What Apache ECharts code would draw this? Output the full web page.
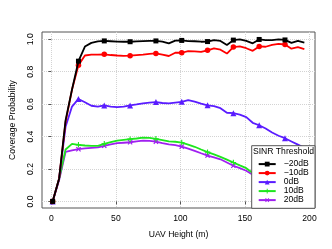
<!DOCTYPE html>
<html>
<head>
<meta charset="utf-8">
<script src="https://cdn.jsdelivr.net/npm/echarts@6/dist/echarts.min.js"></script>
<style>
html,body{margin:0;padding:0;background:#fff;}
#chart{width:332px;height:249px;}
</style>
</head>
<body>
<div id="chart"></div>
<script>
const heights = [1,6,11,16,21,26,31,36,41,46,51,56,61,66,71,76,81,86,91,96,101,106,111,116,121,126,131,136,141,146,151,156,161,166,171,176,181,186,191,196];
const seriesNames = ['\u221220dB','\u221210dB','0dB','10dB','20dB'];
const covM20 = [0.0,0.14,0.50,0.69,0.865,0.955,0.978,0.987,0.99,0.988,0.986,0.985,0.985,0.987,0.989,0.99,0.99,0.985,0.975,0.992,0.993,0.989,0.988,0.985,0.986,0.995,0.99,0.965,0.995,1.0,0.99,0.975,0.999,0.995,0.995,1.0,0.996,0.978,0.99,0.98];
const covM10 = [0.0,0.14,0.49,0.69,0.84,0.90,0.905,0.905,0.907,0.903,0.90,0.898,0.899,0.902,0.905,0.91,0.913,0.905,0.897,0.917,0.917,0.927,0.925,0.923,0.932,0.944,0.936,0.912,0.952,0.956,0.945,0.929,0.956,0.954,0.965,0.972,0.968,0.942,0.952,0.94];
const cov0 = [0.0,0.14,0.46,0.585,0.632,0.612,0.59,0.585,0.592,0.585,0.581,0.585,0.592,0.598,0.605,0.61,0.613,0.607,0.605,0.61,0.614,0.625,0.615,0.603,0.593,0.588,0.575,0.547,0.544,0.535,0.52,0.485,0.47,0.45,0.425,0.405,0.39,0.37,0.35,0.33];
const cov10 = [0.0,0.14,0.32,0.355,0.349,0.345,0.343,0.343,0.355,0.365,0.375,0.38,0.384,0.388,0.394,0.392,0.386,0.378,0.37,0.368,0.363,0.35,0.337,0.32,0.304,0.29,0.275,0.258,0.24,0.222,0.205,0.175,0.16,0.145,0.13,0.12,0.11,0.1,0.09,0.08];
const cov20 = [0.0,0.13,0.305,0.315,0.322,0.327,0.33,0.333,0.343,0.352,0.359,0.362,0.365,0.37,0.375,0.373,0.369,0.36,0.352,0.347,0.338,0.325,0.312,0.297,0.283,0.272,0.26,0.24,0.22,0.205,0.189,0.164,0.15,0.135,0.12,0.11,0.1,0.09,0.08,0.07];
const xTicks = [0,50,100,150,200];
const yTicks = [0,0.2,0.4,0.6,0.8,1.0];

const FONT = 'Liberation Sans, Arial, sans-serif';
const FS = 8.6;
const PLUS = 'path://M4,0H6V4H10V6H6V10H4V6H0V4H4Z';
const styles = [
  {color:'#000000', symbol:'rect', size:5, rot:0},
  {color:'#ff0000', symbol:'circle', size:5.5, rot:0},
  {color:'#5a1cff', symbol:'triangle', size:6, rot:0},
  {color:'#1ee61e', symbol:PLUS, size:5.5, rot:0},
  {color:'#a020f0', symbol:PLUS, size:6, rot:45}
];
const values = [covM20, covM10, cov0, cov10, cov20];

const series = seriesNames.map((name, i) => ({
  name: name,
  type: 'line',
  data: heights.map((h, j) => [h, values[i][j]]),
  symbol: styles[i].symbol,
  symbolRotate: styles[i].rot,
  showAllSymbol: true,
  symbolSize: (v, p) => (p.dataIndex % 4 === 0 && p.dataIndex <= 36) ? styles[i].size : 0,
  lineStyle: {color: styles[i].color, width: 1.8},
  itemStyle: {color: styles[i].color},
  z: 2 + (4 - i)
}));

const chart = echarts.init(document.getElementById('chart'), null, {renderer:'canvas'});
chart.setOption({
  animation: false,
  backgroundColor: '#ffffff',
  textStyle: {fontFamily: FONT},
  grid: {left: 32, right: 17, top: 32, bottom: 41, show: true, borderColor: '#555555', borderWidth: 1, backgroundColor: 'transparent'},
  xAxis: {
    type: 'value', min: -7.25, max: 204.25,
    name: 'UAV Height (m)', nameLocation: 'middle', nameGap: 22,
    nameTextStyle: {fontSize: FS, color: '#000', fontFamily: FONT},
    axisLine: {show: false},
    axisTick: {show: true, length: 3, customValues: xTicks, lineStyle: {color: '#555555'}},
    axisLabel: {customValues: xTicks, fontSize: FS, color: '#000', margin: 6, fontFamily: FONT},
    splitLine: {show: true, lineStyle: {type: 'dotted', color: '#d3d3d3', width: 1}}
  },
  yAxis: {
    type: 'value', min: -0.0406, max: 1.045,
    name: 'Coverage Probability', nameLocation: 'middle', nameGap: 25, nameRotate: 90,
    nameTextStyle: {fontSize: FS, color: '#000', fontFamily: FONT},
    axisLine: {show: false},
    axisTick: {show: true, length: 3, customValues: yTicks, lineStyle: {color: '#555555'}},
    axisLabel: {customValues: yTicks, fontSize: FS, color: '#000', margin: 7, rotate: 90, fontFamily: FONT,
      formatter: v => v.toFixed(1)},
    splitLine: {show: true, lineStyle: {type: 'dotted', color: '#d3d3d3', width: 1}}
  },
  legend: {
    data: seriesNames,
    orient: 'vertical',
    left: 257.7, top: 159.6,
    itemWidth: 17, itemHeight: 6, itemGap: 0,
    padding: 0,
    z: 12,
    textStyle: {fontSize: FS, color: '#000', lineHeight: 8.8, fontFamily: FONT, padding: [0,0,0,3]}
  },
  graphic: [
    {type: 'rect', z: 10, shape: {x: 251.7, y: 145.7, width: 63.3, height: 62.6},
     style: {fill: '#ffffff', stroke: '#555555', lineWidth: 1}},
    {type: 'text', z: 11, x: 283.5, y: 151.2,
     style: {text: 'SINR Threshold', fontSize: FS, fontFamily: FONT, fill: '#000', align: 'center', verticalAlign: 'middle'}}
  ],
  series: series
});
</script>
</body>
</html>
